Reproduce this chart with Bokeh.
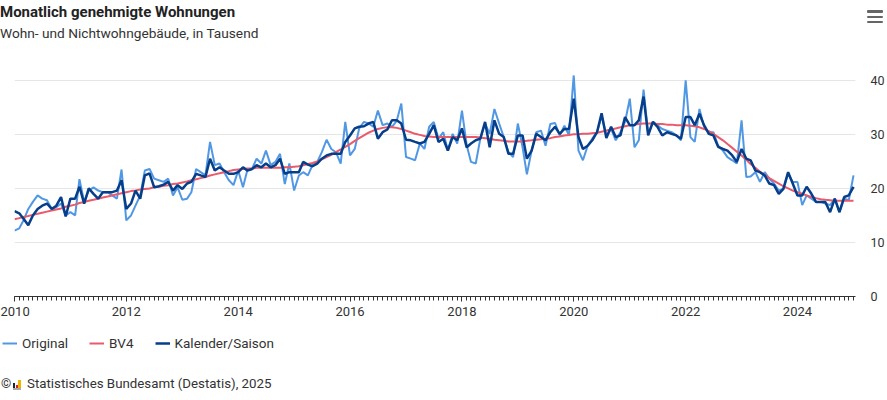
import pandas as pd
from bokeh.plotting import figure
from bokeh.layouts import column
from bokeh.models import (Range1d, FixedTicker, DatetimeTickFormatter, Legend, LegendItem,
                          ColumnDataSource, Div)
from bokeh.embed import file_html
from bokeh.resources import INLINE

# ---------------- data (thousand dwellings, monthly Jan 2010 - Jan 2025) -------------
start_month = "2010-01-01"
n_months = 181

original = [
    12.2, 12.6, 14.1, 16.2, 17.5, 18.7, 18.1, 17.8, 16.2, 16.5, 17.2, 15.0,
    15.6, 15.0, 21.7, 17.5, 19.6, 20.2, 19.6, 19.3, 19.3, 18.7, 18.1, 23.5,
    14.1, 15.0, 16.8, 18.7, 23.3, 23.6, 21.8, 21.5, 21.2, 21.8, 18.7, 20.2,
    17.9, 18.1, 19.3, 23.6, 23.0, 22.4, 28.6, 24.3, 24.6, 23.0, 21.5, 20.6,
    23.3, 20.2, 23.3, 23.6, 25.5, 24.6, 27.0, 24.3, 24.9, 26.4, 20.8, 24.6,
    19.6, 22.4, 23.0, 22.4, 24.3, 24.9, 26.7, 29.0, 27.3, 26.7, 24.6, 32.3,
    26.1, 27.3, 31.1, 32.3, 32.0, 31.4, 34.4, 31.7, 32.0, 31.4, 32.5, 35.7,
    25.8, 25.5, 25.2, 28.3, 27.3, 31.4, 32.3, 29.2, 30.4, 27.0, 30.1, 28.3,
    34.4, 28.0, 24.9, 24.6, 29.2, 32.0, 30.1, 34.7, 32.0, 29.5, 26.7, 25.8,
    32.0, 27.6, 22.6, 27.0, 30.4, 30.7, 27.9, 31.9, 32.1, 29.8, 31.6, 29.8,
    40.9, 27.0, 25.2, 27.9, 29.2, 30.4, 33.4, 29.8, 31.0, 28.9, 30.4, 32.3,
    36.6, 27.6, 28.9, 38.3, 30.1, 32.3, 31.7, 31.0, 30.7, 30.4, 29.8, 28.9,
    40.0, 29.5, 28.6, 34.7, 31.4, 30.4, 30.4, 27.9, 27.0, 25.8, 25.2, 24.6,
    32.6, 22.1, 22.2, 23.0, 21.2, 23.0, 21.8, 20.9, 19.6, 19.9, 22.7, 21.2,
    21.2, 16.9, 18.7, 18.1, 17.5, 17.5, 17.2, 16.9, 18.1, 15.6, 18.1, 17.8,
    22.4,
]

bv4 = [
    14.3, 14.5, 14.7, 14.9, 15.1, 15.3, 15.5, 15.7, 15.9, 16.1, 16.3, 16.6,
    16.8, 17.0, 17.3, 17.5, 17.7, 17.9, 18.1, 18.3, 18.5, 18.7, 18.9, 19.1,
    19.3, 19.5, 19.6, 19.8, 19.9, 20.0, 20.2, 20.3, 20.5, 20.6, 20.8, 20.9,
    21.1, 21.3, 21.5, 21.7, 21.9, 22.1, 22.4, 22.6, 22.8, 23.0, 23.2, 23.4,
    23.5, 23.6, 23.7, 23.7, 23.8, 23.8, 23.8, 23.8, 23.8, 23.8, 23.9, 23.9,
    24.0, 24.1, 24.3, 24.5, 24.7, 25.0, 25.4, 25.8, 26.2, 26.7, 27.2, 27.7,
    28.2, 28.8, 29.3, 29.8, 30.3, 30.7, 31.0, 31.2, 31.3, 31.3, 31.2, 31.0,
    30.7, 30.4, 30.1, 29.9, 29.7, 29.6, 29.5, 29.5, 29.5, 29.5, 29.5, 29.5,
    29.5, 29.5, 29.5, 29.5, 29.4, 29.3, 29.2, 29.0, 28.9, 28.8, 28.7, 28.7,
    28.7, 28.7, 28.8, 28.9, 29.0, 29.1, 29.2, 29.3, 29.5, 29.6, 29.8, 29.9,
    30.0, 30.0, 30.1, 30.1, 30.2, 30.3, 30.5, 30.7, 30.9, 31.1, 31.3, 31.5,
    31.7, 31.8, 31.9, 32.0, 32.0, 32.0, 31.9, 31.9, 31.8, 31.8, 31.7, 31.7,
    31.7, 31.6, 31.5, 31.3, 31.0, 30.6, 30.1, 29.5, 28.9, 28.2, 27.5, 26.8,
    26.1, 25.3, 24.5, 23.8, 23.1, 22.5, 21.9, 21.4, 20.9, 20.4, 20.0, 19.6,
    19.3, 19.0, 18.7, 18.4, 18.2, 18.0, 17.9, 17.8, 17.7, 17.7, 17.7, 17.7,
    17.7,
]

kalender_saison = [
    15.8, 15.4, 14.4, 13.2, 15.0, 16.2, 16.8, 17.2, 16.2, 16.8, 18.4, 14.8,
    18.1, 18.1, 20.3, 17.2, 20.0, 19.0, 18.1, 19.3, 19.3, 19.3, 19.6, 21.5,
    16.2, 17.2, 19.6, 18.1, 22.4, 22.8, 20.2, 20.4, 20.7, 21.2, 19.6, 20.6,
    19.9, 20.9, 21.2, 22.7, 22.4, 22.1, 25.5, 23.3, 23.9, 23.3, 22.7, 22.7,
    23.0, 23.9, 23.3, 23.6, 24.3, 23.9, 24.6, 23.9, 24.3, 25.5, 22.7, 23.0,
    23.0, 23.0, 24.9, 24.4, 24.1, 24.6, 25.5, 26.1, 26.4, 26.4, 26.4, 28.6,
    29.8, 31.1, 31.4, 31.5, 32.0, 32.3, 29.2, 30.4, 30.9, 32.6, 32.6, 32.0,
    29.0, 28.9, 28.6, 28.3, 28.6, 30.1, 31.7, 28.6, 29.2, 27.0, 29.5, 28.9,
    31.1, 27.6, 28.3, 28.9, 29.2, 32.3, 27.6, 32.6, 30.1, 29.5, 26.4, 26.4,
    29.8, 29.8, 25.5, 27.0, 30.1, 29.5, 28.9, 30.4, 31.4, 30.1, 31.0, 31.0,
    36.6, 29.5, 27.3, 27.9, 28.9, 30.4, 33.9, 29.3, 31.4, 29.5, 29.8, 33.2,
    31.7, 31.7, 32.6, 37.0, 29.8, 32.3, 31.4, 29.8, 30.4, 30.1, 29.8, 29.2,
    33.2, 33.2, 31.7, 33.8, 31.7, 30.1, 29.8, 27.7, 27.3, 27.0, 26.1, 24.9,
    27.3, 25.5, 25.2, 23.3, 23.0, 22.4, 20.9, 20.6, 19.0, 19.9, 23.0, 20.9,
    18.7, 18.7, 20.3, 19.0, 17.5, 17.5, 17.5, 15.6, 18.1, 15.6, 18.4, 18.7,
    20.3,
]

tick_years = [2010, 2012, 2014, 2016, 2018, 2020, 2022, 2024]
y_ticks = [0, 10, 20, 30, 40]
series_names = ["Original", "BV4", "Kalender/Saison"]
title_text = "Monatlich genehmigte Wohnungen"
subtitle_text = "Wohn- und Nichtwohngebäude, in Tausend"
footer_text = "Statistisches Bundesamt (Destatis), 2025"

# ---------------- styling -------------
FONT = "Roboto"
TXT = "#333333"
C_ORIG = "#5097e4"
C_BV4 = "#e95a6b"
C_KS = "#063e8a"
colors = [C_ORIG, C_BV4, C_KS]
widths = [2, 2, 2.5]

W = 887
HEAD_H, FIG_H, LEG_H, FOOT_H = 60, 265, 35, 40

dates = pd.date_range(start_month, periods=n_months, freq="MS")
src = ColumnDataSource(dict(x=dates, orig=original, bv4=bv4, ks=kalender_saison))


def ms(ts):
    return pd.Timestamp(ts).value // 10**6


x_start = pd.Timestamp(start_month)
x_end = dates[-1] + pd.Timedelta(days=13)

p = figure(width=W, height=FIG_H, x_axis_type="datetime", y_axis_location="right",
           x_range=Range1d(x_start, x_end), y_range=Range1d(0, 42),
           output_backend="svg", toolbar_location=None,
           min_border_left=14, min_border_right=31,
           min_border_top=9, min_border_bottom=29)
p.outline_line_color = None
p.background_fill_color = "white"
p.border_fill_color = "white"
p.frame_align = False

p.line("x", "orig", source=src, line_color=C_ORIG, line_width=widths[0])
p.line("x", "bv4", source=src, line_color=C_BV4, line_width=widths[1])
p.line("x", "ks", source=src, line_color=C_KS, line_width=widths[2])

# x axis
xa = p.xaxis[0]
xa.ticker = FixedTicker(ticks=[ms(f"{y}-01-01") for y in tick_years],
                        minor_ticks=[ms(d) for d in dates])
xa.formatter = DatetimeTickFormatter(years="%Y", months="%Y", days="%Y", hours="%Y",
                                     minutes="%Y", seconds="%Y", milliseconds="%Y")
xa.axis_line_color = TXT
xa.major_tick_line_color = TXT
xa.minor_tick_line_color = TXT
xa.major_tick_in = 0
xa.major_tick_out = 5
xa.minor_tick_in = 0
xa.minor_tick_out = 4
xa.major_label_text_font = FONT
xa.major_label_text_font_size = "13px"
xa.major_label_text_color = TXT
xa.major_label_standoff = 5

# y axis
ya = p.yaxis[0]
ya.ticker = FixedTicker(ticks=y_ticks)
ya.axis_line_color = None
ya.major_tick_line_color = None
ya.minor_tick_line_color = None
ya.major_tick_in = 0
ya.major_tick_out = 0
ya.minor_tick_in = 0
ya.minor_tick_out = 0
ya.major_label_text_font = FONT
ya.major_label_text_font_size = "12.5px"
ya.major_label_text_color = TXT
ya.major_label_standoff = 15

p.xgrid.grid_line_color = None
p.ygrid.ticker = FixedTicker(ticks=y_ticks)
p.ygrid.grid_line_color = "#e6e6e6"
p.ygrid.grid_line_width = 1

# legend strip (own small figure; swatch renderers hold no visible data)
lg = figure(width=W, height=LEG_H, x_range=Range1d(0, 1), y_range=Range1d(0, 1),
            x_axis_location=None, y_axis_location=None,
            output_backend="svg", toolbar_location=None,
            min_border_left=0, min_border_right=0, min_border_top=0, min_border_bottom=0)
lg.frame_align = False
lg.grid.visible = False
lg.outline_line_color = None
lg.background_fill_color = "white"
lg.border_fill_color = "white"
items = []
for name, c, w in zip(series_names, colors, widths):
    r = lg.line(x=[float("nan")], y=[float("nan")], line_color=c, line_width=w)
    items.append(LegendItem(label=name, renderers=[r]))
legend = Legend(items=items, location=(2, 9), orientation="horizontal",
                glyph_width=15, glyph_height=16, label_height=16,
                label_standoff=5, spacing=21, padding=0, margin=0,
                label_text_font=FONT, label_text_font_size="13.5px", label_text_color=TXT,
                background_fill_alpha=0, border_line_alpha=0)
lg.add_layout(legend, "center")

# header (title, subtitle, menu icon)
bars = "".join(
    f'<div style="position:absolute;left:867px;top:{t}px;width:16px;height:2.5px;'
    f'background:#666666;border-radius:1px"></div>' for t in (10, 15.5, 20.5))
header = Div(text=(
    f'<div style="position:relative;width:{W}px;height:{HEAD_H}px;font-family:{FONT};color:{TXT};">'
    f'<div style="position:absolute;left:0;top:3px;font-size:15px;font-weight:bold;'
    f'line-height:18px;color:#222222;white-space:nowrap">{title_text}</div>'
    f'<div style="position:absolute;left:0;top:24px;font-size:13.7px;line-height:18px;'
    f'white-space:nowrap">{subtitle_text}</div>{bars}</div>'),
    width=W, height=HEAD_H, margin=0)


def box(x0, x1, y0, y1, color):
    return (f'<div style="position:absolute;left:{x0}px;top:{y0 - 360}px;width:{x1 - x0}px;'
            f'height:{y1 - y0}px;background:{color}"></div>')


logo = (box(13.3, 15.3, 383, 388, "#222222") + box(16.0, 17.8, 384.7, 388, "#d4202a")
        + box(18.4, 20.7, 380, 388, "#f0b400") + box(12.8, 21.3, 388, 389.5, "#aaaaaa"))
footer = Div(text=(
    f'<div style="position:relative;width:{W}px;height:{FOOT_H}px;font-family:{FONT};color:{TXT};">'
    f'<div style="position:absolute;left:1px;top:15px;font-size:13px;line-height:18px">©</div>'
    f'{logo}'
    f'<div style="position:absolute;left:27px;top:15px;font-size:13.3px;line-height:18px;'
    f'white-space:nowrap">{footer_text}</div></div>'),
    width=W, height=FOOT_H, margin=0)

layout = column(header, p, lg, footer, spacing=0)

open("out.html", "w").write(file_html(layout, INLINE))
